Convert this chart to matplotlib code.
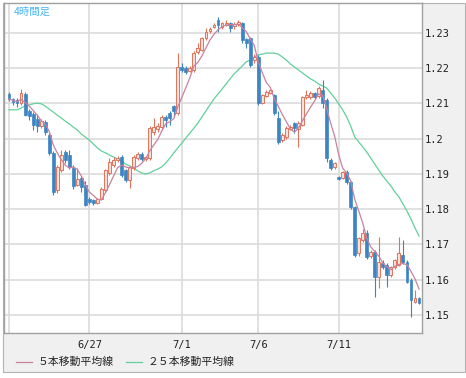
import numpy as np
import pandas as pd
import matplotlib.pyplot as plt
from matplotlib.patches import Rectangle
from matplotlib.lines import Line2D

# -----------------------------
# 1. Data (4h candles)
# -----------------------------
opens = [1.2127, 1.2113, 1.2110, 1.2101, 1.2128, 1.2080, 1.2070, 1.2055, 1.2035, 1.2048,
         1.2010, 1.1960, 1.1855, 1.1912, 1.1962, 1.1955, 1.1918, 1.1870, 1.1890, 1.1870,
         1.1828, 1.1825, 1.1818, 1.1830, 1.1855, 1.1903, 1.1925, 1.1940, 1.1948, 1.1911,
         1.1883, 1.1918, 1.1945, 1.1957, 1.1943, 1.1946, 1.2019, 1.2028, 1.2032, 1.2062,
         1.2072, 1.2092, 1.2073, 1.2204, 1.2200, 1.2192, 1.2195, 1.2245, 1.2252, 1.2286,
         1.2305, 1.2318, 1.2337, 1.2317, 1.2323, 1.2328, 1.2320, 1.2325, 1.2328, 1.2282,
         1.2286, 1.2223, 1.2232, 1.2101, 1.2122, 1.2130, 1.2124, 1.2060, 1.1996, 1.2005,
         1.2028, 1.2045, 1.2028, 1.2040, 1.2118, 1.2118, 1.2130, 1.2120, 1.2138, 1.2110,
         1.1940, 1.1920, 1.1892, 1.1890, 1.1905, 1.1876, 1.1806, 1.1676, 1.1712, 1.1733,
         1.1668, 1.1679, 1.1608, 1.1648, 1.1642, 1.1613, 1.1636, 1.1642, 1.1670, 1.1650,
         1.1600, 1.1537, 1.1548]
highs = [1.2133, 1.2116, 1.2116, 1.2141, 1.2133, 1.2085, 1.2075, 1.2070, 1.2055, 1.2052,
         1.2015, 1.1965, 1.1925, 1.1968, 1.1968, 1.1968, 1.1925, 1.1918, 1.1895, 1.1880,
         1.1835, 1.1828, 1.1832, 1.1862, 1.1915, 1.1945, 1.1948, 1.1952, 1.1955, 1.1914,
         1.1923, 1.1955, 1.1962, 1.1962, 1.1952, 1.2035, 1.2059, 1.2045, 1.2068, 1.2066,
         1.2080, 1.2097, 1.2243, 1.2215, 1.2205, 1.2205, 1.2250, 1.2272, 1.2290, 1.2315,
         1.2318, 1.2328, 1.2345, 1.2332, 1.2337, 1.2332, 1.2332, 1.2338, 1.2332, 1.2285,
         1.2290, 1.2240, 1.2238, 1.2128, 1.2138, 1.2142, 1.2128, 1.2080, 1.2015, 1.2035,
         1.2040, 1.2048, 1.2050, 1.2122, 1.2138, 1.2135, 1.2134, 1.2150, 1.2167, 1.2115,
         1.1945, 1.1935, 1.1895, 1.1908, 1.1910, 1.1880, 1.1810, 1.1722, 1.1745, 1.1740,
         1.1685, 1.1683, 1.1721, 1.1655, 1.1648, 1.1640, 1.1660, 1.1720, 1.1713, 1.1655,
         1.1605, 1.1571, 1.1552]
lows = [1.2107, 1.2096, 1.2090, 1.2096, 1.2064, 1.2053, 1.2025, 1.2020, 1.2030, 1.2010,
        1.1955, 1.1840, 1.1845, 1.1905, 1.1930, 1.1915, 1.1858, 1.1865, 1.1850, 1.1808,
        1.1815, 1.1812, 1.1815, 1.1826, 1.1850, 1.1898, 1.1920, 1.1935, 1.1892, 1.1878,
        1.1860, 1.1912, 1.1940, 1.1938, 1.1938, 1.1940, 1.2012, 1.2020, 1.2028, 1.2033,
        1.2040, 1.2062, 1.2068, 1.2190, 1.2185, 1.2188, 1.2190, 1.2240, 1.2248, 1.2280,
        1.2300, 1.2313, 1.2303, 1.2312, 1.2320, 1.2303, 1.2312, 1.2320, 1.2272, 1.2258,
        1.2204, 1.2215, 1.2095, 1.2098, 1.2118, 1.2126, 1.2068, 1.1985, 1.1992, 1.2000,
        1.2024, 1.2016, 1.1977, 1.2035, 1.2112, 1.2112, 1.2112, 1.2115, 1.2087, 1.1935,
        1.1912, 1.1915, 1.1882, 1.1886, 1.1872, 1.1800, 1.1665, 1.1668, 1.1708, 1.1660,
        1.1662, 1.1551, 1.1577, 1.1630, 1.1579, 1.1608, 1.1630, 1.1638, 1.1645, 1.1590,
        1.1494, 1.1533, 1.1530]
closes = [1.2113, 1.2104, 1.2100, 1.2130, 1.2068, 1.2064, 1.2040, 1.2035, 1.2050, 1.2020,
          1.1960, 1.1850, 1.1920, 1.1955, 1.1940, 1.1920, 1.1865, 1.1885, 1.1862, 1.1812,
          1.1820, 1.1818, 1.1828, 1.1858, 1.1910, 1.1934, 1.1940, 1.1946, 1.1897, 1.1883,
          1.1920, 1.1948, 1.1957, 1.1943, 1.1948, 1.2030, 1.2033, 1.2035, 1.2062, 1.2053,
          1.2058, 1.2078, 1.2204, 1.2195, 1.2190, 1.2200, 1.2243, 1.2257, 1.2286, 1.2303,
          1.2312, 1.2323, 1.2323, 1.2328, 1.2328, 1.2314, 1.2326, 1.2330, 1.2280, 1.2272,
          1.2210, 1.2232, 1.2101, 1.2124, 1.2133, 1.2138, 1.2073, 1.1990, 1.2010, 1.2030,
          1.2034, 1.2030, 1.2045, 1.2118, 1.2124, 1.2130, 1.2118, 1.2144, 1.2101, 1.1945,
          1.1917, 1.1931, 1.1885, 1.1905, 1.1877, 1.1806, 1.1670, 1.1718, 1.1733, 1.1665,
          1.1678, 1.1608, 1.1650, 1.1636, 1.1613, 1.1636, 1.1656, 1.1676, 1.1650, 1.1594,
          1.1543, 1.1548, 1.1534]

ma25 = [1.2082, 1.2082, 1.2082, 1.2087, 1.2093, 1.2096, 1.2099, 1.2101, 1.2099, 1.2093,
        1.2084, 1.2076, 1.2067, 1.2059, 1.2050, 1.2042, 1.2033, 1.2025, 1.2013, 1.2005,
        1.1996, 1.1985, 1.1974, 1.1965, 1.1960, 1.1954, 1.1948, 1.1943, 1.1937, 1.1928,
        1.1923, 1.1917, 1.1909, 1.1903, 1.1900, 1.1903, 1.1909, 1.1914, 1.1920, 1.1931,
        1.1945, 1.1960, 1.1974, 1.1988, 1.2002, 1.2016, 1.2030, 1.2045, 1.2062, 1.2079,
        1.2096, 1.2113, 1.2127, 1.2141, 1.2155, 1.2170, 1.2184, 1.2195, 1.2206, 1.2218,
        1.2223, 1.2232, 1.2238, 1.2240, 1.2243, 1.2243, 1.2243, 1.2240, 1.2232, 1.2223,
        1.2212, 1.2204, 1.2195, 1.2187, 1.2178, 1.2170, 1.2164, 1.2155, 1.2150, 1.2144,
        1.2130, 1.2116, 1.2099, 1.2082, 1.2062, 1.2036, 1.2005, 1.1991, 1.1977, 1.1962,
        1.1945, 1.1928, 1.1911, 1.1894, 1.1880, 1.1866, 1.1849, 1.1835, 1.1815, 1.1795,
        1.1772, 1.1747, 1.1724]

date_ticks = [0, 20, 43, 62, 82]
date_labels = ["", "6/27", "7/1", "7/6", "7/11"]
price_ticks = [1.15, 1.16, 1.17, 1.18, 1.19, 1.20, 1.21, 1.22, 1.23]
price_labels = ["1.15", "1.16", "1.17", "1.18", "1.19", "1.2", "1.21", "1.22", "1.23"]

df = pd.DataFrame({"open": opens, "high": highs, "low": lows, "close": closes, "ma25": ma25})
df["ma5"] = df["close"].rolling(5, min_periods=1).mean()
idx = np.arange(len(df))

# -----------------------------
# 2. Figure setup (pixel based layout)
# -----------------------------
W, H = 466, 378
fig = plt.figure(figsize=(W / 100, H / 100), dpi=100)
fig.patch.set_facecolor("white")

def fx(px):
    return px / W

def fy(py):
    return 1 - py / H

fig.patches.append(Rectangle((fx(3), fy(372)), fx(462), 369 / H, transform=fig.transFigure,
                             facecolor="#f0f0f0", edgecolor="#b4b4b4", lw=0.8, zorder=-10))

ax = fig.add_axes([fx(4), fy(333), fx(418), 330 / H])
ax.set_zorder(1)
ax.set_facecolor("white")

UP_FACE = "#fbe1da"
UP_EDGE = "#e2735a"
DOWN = "#3d84c3"

# -----------------------------
# 3. Candles
# -----------------------------
up = (df["close"] >= df["open"]).values
wick_colors = [UP_EDGE if u else DOWN for u in up]
ax.vlines(idx, df["low"], df["high"], colors=wick_colors, lw=0.8, zorder=3)

body_bottom = np.minimum(df["open"], df["close"]).values
body_height = np.abs(df["close"] - df["open"]).values
ax.bar(idx[up], body_height[up], bottom=body_bottom[up], width=0.72,
       color=UP_FACE, edgecolor=UP_EDGE, lw=0.7, zorder=4)
ax.bar(idx[~up], body_height[~up], bottom=body_bottom[~up], width=0.72,
       color=DOWN, edgecolor=DOWN, lw=0.5, zorder=4)

# moving averages
ax.plot(idx, df["ma25"], color="#62d09c", lw=0.9, zorder=2)
ax.plot(idx, df["ma5"], color="#c9829e", lw=0.9, zorder=5)

# -----------------------------
# 4. Axes styling
# -----------------------------
ax.set_xlim(-1.24, 102.74)
ax.set_ylim(1.14489, 1.23851)

ax.set_xticks(date_ticks)
ax.set_xticklabels(date_labels, family="DejaVu Sans Mono", fontsize=7.5, color="#222222")
ax.yaxis.tick_right()
ax.set_yticks(price_ticks)
ax.set_yticklabels(price_labels, family="DejaVu Sans Mono", fontsize=7.5, color="#222222")
ax.tick_params(axis="x", length=0, pad=5)
ax.tick_params(axis="y", length=0, pad=2)

ax.grid(True, color="#dcdcdc", lw=1.2)
ax.set_axisbelow(True)
for side in ["left", "right", "bottom", "top"]:
    ax.spines[side].set_color("#a0a0a0")
    ax.spines[side].set_linewidth(1.0)

# title
ax.text(0.023, 0.99, "4時間足", transform=ax.transAxes, ha="left", va="top",
        fontsize=7.5, color="#48b6f4", family=["Noto Sans CJK JP", "DejaVu Sans"])

# -----------------------------
# 5. Legend (bottom strip)
# -----------------------------
fig.add_artist(Line2D([fx(16), fx(32)], [fy(362), fy(362)], color="#c9829e", lw=0.9))
fig.text(fx(38), fy(362), "５本移動平均線", ha="left", va="center", fontsize=7.8,
         color="#222222", family=["Noto Sans CJK JP", "DejaVu Sans"])
fig.add_artist(Line2D([fx(126), fx(142)], [fy(362), fy(362)], color="#62d09c", lw=0.9))
fig.text(fx(148), fy(362), "２５本移動平均線", ha="left", va="center", fontsize=7.8,
         color="#222222", family=["Noto Sans CJK JP", "DejaVu Sans"])

fig.savefig("out.png", dpi=100)
